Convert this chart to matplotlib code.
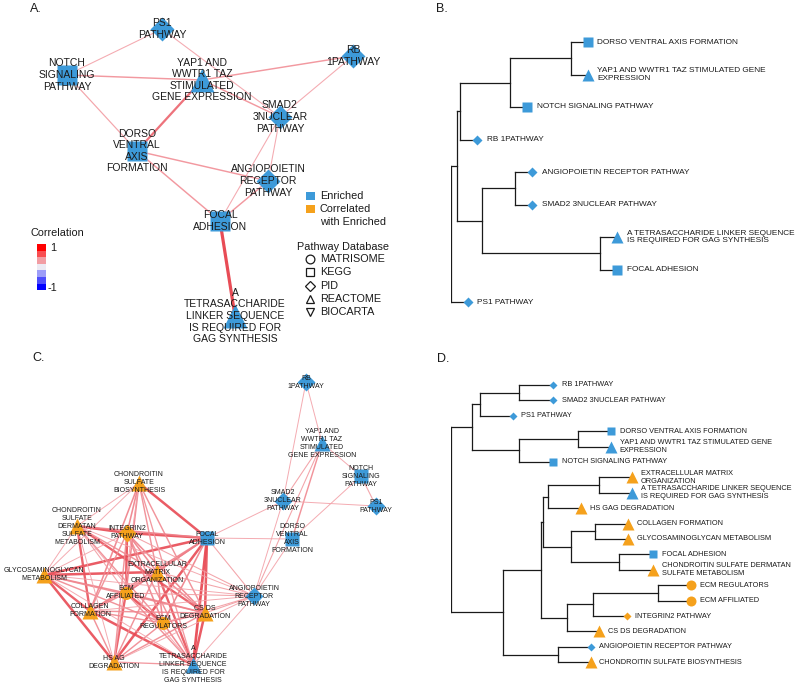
import numpy as np
import matplotlib
matplotlib.use("Agg")
import matplotlib.pyplot as plt
from matplotlib.colors import LinearSegmentedColormap
from matplotlib.patches import Rectangle

plt.rcParams['font.family'] = ['Liberation Sans', 'DejaVu Sans']

BLUE = '#3d9ad9'
ORANGE = '#f5a11c'
TXT = '#1a1a1a'
W, H = 800, 687
SHAPE = {'MATRISOME': 'o', 'KEGG': 's', 'PID': 'D', 'REACTOME': '^', 'BIOCARTA': 'v'}
GROUP_COLOR = {'E': BLUE, 'C': ORANGE}

# ---------------- Panel A: network of enriched pathways ----------------
a_keys = ['PS1', 'RB', 'NOTCH', 'YAP1', 'SMAD2', 'DORSO', 'ANGIO', 'FOCAL', 'TETRA']
a_labels = ['PS1\nPATHWAY', 'RB\n1PATHWAY', 'NOTCH\nSIGNALING\nPATHWAY',
            'YAP1 AND\nWWTR1 TAZ\nSTIMULATED\nGENE EXPRESSION',
            'SMAD2\n3NUCLEAR\nPATHWAY', 'DORSO\nVENTRAL\nAXIS\nFORMATION',
            'ANGIOPOIETIN\nRECEPTOR\nPATHWAY', 'FOCAL\nADHESION',
            'A\nTETRASACCHARIDE\nLINKER SEQUENCE\nIS REQUIRED FOR\nGAG SYNTHESIS']
a_x = [162, 353, 67, 202, 280, 137, 268, 220, 235]
a_y = [29, 56, 75, 80, 117, 151, 181, 221, 316]
a_db = ['PID', 'PID', 'KEGG', 'REACTOME', 'PID', 'KEGG', 'PID', 'KEGG', 'REACTOME']
a_edges = [('NOTCH', 'PS1', 0.3), ('PS1', 'SMAD2', 0.3), ('NOTCH', 'YAP1', 0.45),
           ('YAP1', 'RB', 0.45), ('YAP1', 'SMAD2', 0.45), ('RB', 'SMAD2', 0.3),
           ('NOTCH', 'DORSO', 0.35), ('YAP1', 'DORSO', 0.7), ('DORSO', 'ANGIO', 0.45),
           ('DORSO', 'FOCAL', 0.45), ('SMAD2', 'ANGIO', 0.3), ('SMAD2', 'FOCAL', 0.3),
           ('ANGIO', 'FOCAL', 0.45), ('FOCAL', 'TETRA', 0.95)]

# ---------------- Panel C: network incl. correlated pathways ----------------
c_keys = ['RB', 'YAP', 'NOTCH', 'SMAD', 'PS1', 'DORSO', 'FOCAL', 'ANGIO', 'CSBIO',
          'CSDSMET', 'INT2', 'GLY', 'ECMORG', 'ECMAFF', 'COLL', 'CSDSDEG', 'ECMREG',
          'HSAG', 'TETRA']
c_labels = ['RB\n1PATHWAY', 'YAP1 AND\nWWTR1 TAZ\nSTIMULATED\nGENE EXPRESSION',
            'NOTCH\nSIGNALING\nPATHWAY', 'SMAD2\n3NUCLEAR\nPATHWAY', 'PS1\nPATHWAY',
            'DORSO\nVENTRAL\nAXIS\nFORMATION', 'FOCAL\nADHESION',
            'ANGIOPOIETIN\nRECEPTOR\nPATHWAY', 'CHONDROITIN\nSULFATE\nBIOSYNTHESIS',
            'CHONDROITIN\nSULFATE\nDERMATAN\nSULFATE\nMETABOLISM', 'INTEGRIN2\nPATHWAY',
            'GLYCOSAMINOGLYCAN\nMETABOLISM', 'EXTRACELLULAR\nMATRIX\nORGANIZATION',
            'ECM\nAFFILIATED', 'COLLAGEN\nFORMATION', 'CS DS\nDEGRADATION',
            'ECM\nREGULATORS', 'HS AG\nDEGRADATION',
            'A\nTETRASACCHARIDE\nLINKER SEQUENCE\nIS REQUIRED FOR\nGAG SYNTHESIS']
c_x = [306, 322, 361, 283, 376, 292, 207, 254, 139, 77, 127, 44, 157, 126, 90, 205, 163, 114, 193]
c_y = [42, 103, 136, 161, 166, 199, 198, 256, 143, 186, 193, 235, 232, 253, 271, 273, 283, 322, 325]
c_db = ['PID', 'REACTOME', 'KEGG', 'PID', 'PID', 'KEGG', 'KEGG', 'PID', 'REACTOME',
        'REACTOME', 'PID', 'REACTOME', 'REACTOME', 'MATRISOME', 'REACTOME', 'REACTOME',
        'MATRISOME', 'REACTOME', 'REACTOME']
c_group = ['E', 'E', 'E', 'E', 'E', 'E', 'E', 'E', 'C', 'C', 'C', 'C', 'C', 'C', 'C', 'C', 'C', 'C', 'E']
c_edges = [
    ('RB', 'YAP', 0.3), ('RB', 'SMAD', 0.3), ('YAP', 'SMAD', 0.35), ('YAP', 'NOTCH', 0.3),
    ('YAP', 'DORSO', 0.5), ('YAP', 'ANGIO', 0.35), ('NOTCH', 'DORSO', 0.3), ('NOTCH', 'PS1', 0.35),
    ('SMAD', 'PS1', 0.3), ('SMAD', 'FOCAL', 0.3), ('SMAD', 'ANGIO', 0.3), ('DORSO', 'FOCAL', 0.3),
    ('DORSO', 'ANGIO', 0.3), ('FOCAL', 'ANGIO', 0.35),
    ('CSBIO', 'FOCAL', 0.85), ('INT2', 'FOCAL', 0.85), ('CSDSMET', 'INT2', 0.85),
    ('GLY', 'FOCAL', 0.85), ('GLY', 'ECMORG', 0.85), ('GLY', 'HSAG', 0.85), ('GLY', 'COLL', 0.8),
    ('COLL', 'TETRA', 0.85), ('FOCAL', 'TETRA', 0.9), ('FOCAL', 'HSAG', 0.85),
    ('FOCAL', 'CSDSDEG', 0.85), ('INT2', 'ECMAFF', 0.85), ('ECMAFF', 'ECMREG', 0.85),
    ('CSDSMET', 'COLL', 0.8), ('CSDSMET', 'CSDSDEG', 0.8), ('ECMORG', 'TETRA', 0.8),
    ('CSDSDEG', 'TETRA', 0.85), ('ECMAFF', 'HSAG', 0.8),
    ('CSBIO', 'INT2', 0.55), ('CSBIO', 'ECMAFF', 0.55), ('CSBIO', 'COLL', 0.55),
    ('CSBIO', 'ECMORG', 0.5), ('CSBIO', 'CSDSDEG', 0.5), ('CSBIO', 'TETRA', 0.45),
    ('CSDSMET', 'FOCAL', 0.55), ('CSDSMET', 'ECMORG', 0.5), ('CSDSMET', 'ECMREG', 0.5),
    ('INT2', 'ECMORG', 0.55), ('INT2', 'COLL', 0.5), ('INT2', 'CSDSDEG', 0.55),
    ('INT2', 'ECMREG', 0.55), ('INT2', 'HSAG', 0.5), ('INT2', 'TETRA', 0.5),
    ('GLY', 'ECMAFF', 0.55), ('GLY', 'ECMREG', 0.5), ('GLY', 'CSDSDEG', 0.5),
    ('ECMORG', 'ECMAFF', 0.55), ('ECMORG', 'COLL', 0.5), ('ECMORG', 'CSDSDEG', 0.55),
    ('ECMORG', 'ECMREG', 0.55), ('ECMORG', 'HSAG', 0.5), ('ECMORG', 'FOCAL', 0.55),
    ('ECMAFF', 'COLL', 0.55), ('ECMAFF', 'CSDSDEG', 0.55), ('ECMAFF', 'FOCAL', 0.55),
    ('ECMAFF', 'TETRA', 0.5), ('COLL', 'ECMREG', 0.5), ('COLL', 'HSAG', 0.5),
    ('COLL', 'CSDSDEG', 0.5), ('COLL', 'FOCAL', 0.55), ('CSDSDEG', 'ECMREG', 0.55),
    ('CSDSDEG', 'HSAG', 0.5), ('ECMREG', 'HSAG', 0.5), ('ECMREG', 'TETRA', 0.55),
    ('ECMREG', 'FOCAL', 0.55), ('HSAG', 'TETRA', 0.45),
    ('CSBIO', 'CSDSMET', 0.3), ('CSBIO', 'GLY', 0.3), ('CSBIO', 'HSAG', 0.3),
    ('CSDSMET', 'GLY', 0.3), ('CSDSMET', 'ECMAFF', 0.35), ('CSDSMET', 'HSAG', 0.3),
    ('CSDSMET', 'TETRA', 0.3), ('GLY', 'INT2', 0.3), ('GLY', 'TETRA', 0.3),
    ('ANGIO', 'ECMORG', 0.35), ('ANGIO', 'ECMAFF', 0.35), ('ANGIO', 'COLL', 0.3),
    ('ANGIO', 'INT2', 0.35), ('ANGIO', 'CSDSDEG', 0.35), ('ANGIO', 'ECMREG', 0.35),
    ('ANGIO', 'GLY', 0.3), ('ANGIO', 'CSDSMET', 0.3), ('ANGIO', 'TETRA', 0.3),
    ('ANGIO', 'HSAG', 0.3),
]

# ---------------- Panel B: dendrogram of enriched pathways ----------------
b_labels = ['DORSO VENTRAL AXIS FORMATION', 'YAP1 AND WWTR1 TAZ STIMULATED GENE\nEXPRESSION',
            'NOTCH SIGNALING PATHWAY', 'RB 1PATHWAY', 'ANGIOPOIETIN RECEPTOR PATHWAY',
            'SMAD2 3NUCLEAR PATHWAY',
            'A TETRASACCHARIDE LINKER SEQUENCE\nIS REQUIRED FOR GAG SYNTHESIS',
            'FOCAL ADHESION', 'PS1 PATHWAY']
b_db = ['KEGG', 'REACTOME', 'KEGG', 'PID', 'PID', 'PID', 'REACTOME', 'KEGG', 'PID']
b_group = ['E'] * 9
b_leaf_depth = [0.825, 0.825, 0.458, 0.157, 0.488, 0.488, 1.0, 1.0, 0.102]
b_merges = [(0, 1, 0.723), (9, 2, 0.355), (10, 3, 0.054), (4, 5, 0.386),
            (6, 7, 0.898), (12, 13, 0.187), (11, 14, 0.036), (15, 8, 0.0)]

# ---------------- Panel D: dendrogram incl. correlated pathways ----------------
d_labels = ['RB 1PATHWAY', 'SMAD2 3NUCLEAR PATHWAY', 'PS1 PATHWAY',
            'DORSO VENTRAL AXIS FORMATION', 'YAP1 AND WWTR1 TAZ STIMULATED GENE\nEXPRESSION',
            'NOTCH SIGNALING PATHWAY', 'EXTRACELLULAR MATRIX\nORGANIZATION',
            'A TETRASACCHARIDE LINKER SEQUENCE\nIS REQUIRED FOR GAG SYNTHESIS',
            'HS GAG DEGRADATION', 'COLLAGEN FORMATION', 'GLYCOSAMINOGLYCAN METABOLISM',
            'FOCAL ADHESION', 'CHONDROITIN SULFATE DERMATAN\nSULFATE METABOLISM',
            'ECM REGULATORS', 'ECM AFFILIATED', 'INTEGRIN2 PATHWAY', 'CS DS DEGRADATION',
            'ANGIOPOIETIN RECEPTOR PATHWAY', 'CHONDROITIN SULFATE BIOSYNTHESIS']
d_db = ['PID', 'PID', 'PID', 'KEGG', 'REACTOME', 'KEGG', 'REACTOME', 'REACTOME', 'REACTOME',
        'REACTOME', 'REACTOME', 'KEGG', 'REACTOME', 'MATRISOME', 'MATRISOME', 'PID',
        'REACTOME', 'PID', 'REACTOME']
d_group = ['E', 'E', 'E', 'E', 'E', 'E', 'C', 'E', 'C', 'C', 'C', 'E', 'C', 'C', 'C', 'C', 'C', 'E', 'C']
d_leaf_depth = [0.425, 0.425, 0.258, 0.667, 0.667, 0.425, 0.754, 0.754, 0.542, 0.738,
                0.738, 0.842, 0.842, 1.0, 1.0, 0.733, 0.617, 0.583, 0.583]
d_merges = [(0, 1, 0.283), (19, 2, 0.121), (3, 4, 0.529), (21, 5, 0.283), (20, 22, 0.0875),
            (6, 7, 0.617), (24, 8, 0.404), (9, 10, 0.6), (11, 12, 0.7), (26, 27, 0.5),
            (25, 28, 0.383), (13, 14, 0.8625), (30, 15, 0.592), (31, 16, 0.483),
            (29, 32, 0.375), (17, 18, 0.446), (33, 34, 0.217), (23, 35, 0.0)]

corr_levels = [1, 0.67, 0.33, 0, -0.33, -0.67, -1]

edge_cmap = LinearSegmentedColormap.from_list('edge', ['#f7c9cd', '#f08890', '#e5303b'])
corr_cmap = LinearSegmentedColormap.from_list('corr', ['#0000ff', '#ecebf4', '#ff0000'])

fig = plt.figure(figsize=(W / 100, H / 100), dpi=100)


def px_axes(x0, y0, w, h):
    ax = fig.add_axes([x0 / W, 1 - (y0 + h) / H, w / W, h / H])
    ax.set_axis_off()
    return ax


def draw_network(ax, keys, labels, xs, ys, dbs, groups, edges, msz, fs, lw_scale):
    pos = {k: (x, y) for k, x, y in zip(keys, xs, ys)}
    for a, b, r in edges:
        (x1, y1), (x2, y2) = pos[a], pos[b]
        ax.plot([x1, x2], [y1, y2], color=edge_cmap(r), lw=(0.45 + 2.0 * r ** 1.5) * lw_scale,
                alpha=0.9, zorder=1, solid_capstyle='butt')
    for k, lab, x, y, db, g in zip(keys, labels, xs, ys, dbs, groups):
        mk = SHAPE[db]
        ax.plot([x], [y], marker=mk, ms=msz[mk], color=GROUP_COLOR[g], mec='none', zorder=2)
        ax.text(x, y, lab, ha='center', va='center', fontsize=fs, color=TXT,
                linespacing=1.2, zorder=3)


def draw_dendro(ax, depth, merges, labels, dbs, groups, msz, fs):
    xs = list(depth)
    ys = list(range(len(depth)))
    for a, b, h in merges:
        kw = dict(color='#1a1a1a', lw=0.9, zorder=1, solid_capstyle='projecting')
        ax.plot([h, h], [ys[a], ys[b]], **kw)
        ax.plot([h, xs[a]], [ys[a], ys[a]], **kw)
        ax.plot([h, xs[b]], [ys[b], ys[b]], **kw)
        xs.append(h)
        ys.append((ys[a] + ys[b]) / 2)
    for i, (lab, db, g) in enumerate(zip(labels, dbs, groups)):
        mk = SHAPE[db]
        ax.plot([xs[i]], [ys[i]], marker=mk, ms=msz[mk], color=GROUP_COLOR[g], mec='none', zorder=2)
        ax.annotate(lab, (xs[i], ys[i]), xytext=(msz['s'] * 0.5 + 3.0, 0),
                    textcoords='offset points', ha='left', va='center', fontsize=fs,
                    color=TXT, linespacing=1.15)


# Panel A
axA = px_axes(0, 0, 400, 340)
axA.set_xlim(0, 400)
axA.set_ylim(340, 0)
draw_network(axA, a_keys, a_labels, a_x, a_y, a_db, ['E'] * 9, a_edges,
             {'s': 14.4, 'D': 12.7, '^': 17, 'o': 14, 'v': 17}, 7.5, 1.0)

# Legends of panel A (drawn in panel pixel space)
axA.text(57, 233, 'Correlation', ha='center', va='center', fontsize=7.8, color=TXT)
for i, lev in enumerate(corr_levels):
    axA.add_patch(Rectangle((37, 244 + i * 6.6), 9, 6.6, color=corr_cmap((lev + 1) / 2), lw=0))
axA.text(50, 248, '1', ha='left', va='center', fontsize=7.8, color=TXT)
axA.text(48, 288, '-1', ha='left', va='center', fontsize=7.8, color=TXT)

axA.add_patch(Rectangle((306, 192), 9, 8, color=BLUE, lw=0))
axA.text(320, 196, 'Enriched', ha='left', va='center', fontsize=7.8, color=TXT)
axA.add_patch(Rectangle((306, 205), 9, 8, color=ORANGE, lw=0))
axA.text(320, 209, 'Correlated', ha='left', va='center', fontsize=7.8, color=TXT)
axA.text(320, 222, 'with Enriched', ha='left', va='center', fontsize=7.8, color=TXT)
axA.text(297, 247, 'Pathway Database', ha='left', va='center', fontsize=7.8, color=TXT)
for i, (name, mk) in enumerate(SHAPE.items()):
    yy = 259 + i * 13.3
    axA.plot([310], [yy], marker=mk, ms=6.3 if mk not in ('D',) else 5.0, mfc='none',
             mec=TXT, mew=0.9)
    axA.text(320, yy, name, ha='left', va='center', fontsize=7.8, color=TXT)

# Panel C
axC = px_axes(0, 340, 420, 347)
axC.set_xlim(0, 420)
axC.set_ylim(347, 0)
draw_network(axC, c_keys, c_labels, c_x, c_y, c_db, c_group, c_edges,
             {'s': 9.6, 'D': 9.2, '^': 12, 'o': 9.4, 'v': 12}, 5.0, 0.9)

# Panel B
axB = px_axes(451, 0, 349, 320)
axB.set_xlim(0, 349 / 166)
axB.set_ylim((320 - 42) / 32.5, -42 / 32.5)
draw_dendro(axB, b_leaf_depth, b_merges, b_labels, b_db, b_group,
            {'s': 7.7, 'D': 4.9, '^': 9.0, 'o': 7.5, 'v': 9.0}, 5.95)

# Panel D
axD = px_axes(451, 330, 349, 357)
axD.set_xlim(0, 349 / 240)
axD.set_ylim((687 - 385) / 15.4, (330 - 385) / 15.4)
draw_dendro(axD, d_leaf_depth, d_merges, d_labels, d_db, d_group,
            {'s': 6.3, 'D': 3.8, '^': 8.0, 'o': 7.2, 'v': 8.0}, 5.35)

for lab, x, y in [('A.', 30, 9), ('B.', 436, 9), ('C.', 32, 358), ('D.', 437, 359)]:
    fig.text(x / W, 1 - y / H, lab, ha='left', va='center', fontsize=9, color=TXT)

fig.savefig('out.png', dpi=100, facecolor='white')
